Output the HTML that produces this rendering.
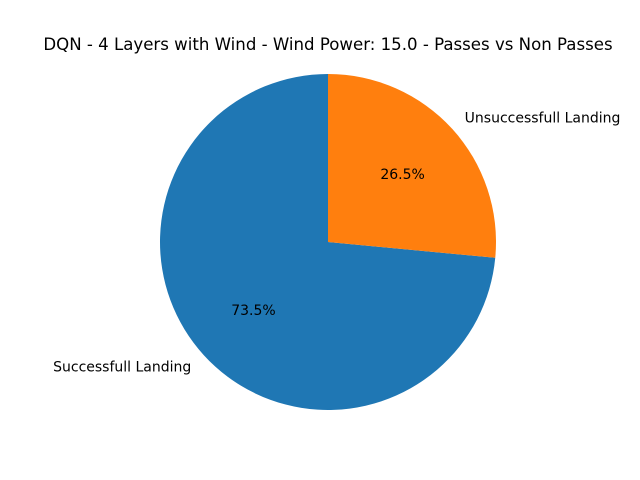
<!DOCTYPE html>
<html><head><meta charset="utf-8"><style>
html,body{margin:0;padding:0;background:#fff;}
svg{display:block;font-family:"DejaVu Sans","Liberation Sans",sans-serif;}
</style></head><body>
<svg id="chart" width="640" height="480" viewBox="0 0 640 480">
<rect width="640" height="480" fill="#fff"/>
<text x="328" y="50" text-anchor="middle" font-size="16.6" fill="#000">DQN - 4 Layers with Wind - Wind Power: 15.0 - Passes vs Non Passes</text>
<g id="slices"></g>
</svg>
<script>
const labels = ["Successfull Landing", "Unsuccessfull Landing"];
const values = [73.5, 26.5];
const colors = ["#1f77b4", "#ff7f0e"];
const cx = 328, cy = 242, r = 168;
const g = document.getElementById('slices');
const ns = "http://www.w3.org/2000/svg";
const total = values.reduce((a,b)=>a+b,0);
let ang = 90;
function pt(a, rr){ const t = a*Math.PI/180; return [cx + rr*Math.cos(t), cy - rr*Math.sin(t)]; }
values.forEach((v,i)=>{
  const sweep = v/total*360;
  const a0 = ang, a1 = ang + sweep;
  const p0 = pt(a0, r), p1 = pt(a1, r);
  const large = sweep > 180 ? 1 : 0;
  const path = document.createElementNS(ns,'path');
  path.setAttribute('d', `M${cx},${cy} L${p0[0]},${p0[1]} A${r},${r} 0 ${large} 0 ${p1[0]},${p1[1]} Z`);
  path.setAttribute('fill', colors[i]);
  
  
  g.appendChild(path);
  const mid = (a0+a1)/2;
  const lp = pt(mid, 1.1*r);
  const lt = document.createElementNS(ns,'text');
  const c = Math.cos(mid*Math.PI/180);
  lt.setAttribute('x', lp[0]); lt.setAttribute('y', lp[1]+5);
  lt.setAttribute('text-anchor', c < 0 ? 'end' : 'start');
  lt.setAttribute('font-size', '14');
  lt.textContent = labels[i];
  
  
  g.appendChild(lt);
  const pp = pt(mid, 0.6*r);
  const pt2 = document.createElementNS(ns,'text');
  pt2.setAttribute('x', pp[0]); pt2.setAttribute('y', pp[1]+5);
  pt2.setAttribute('text-anchor', 'middle');
  pt2.setAttribute('font-size', '14');
  pt2.textContent = v.toFixed(1) + '%';
  
  
  g.appendChild(pt2);
  ang = a1;
});
</script>
</body></html>
